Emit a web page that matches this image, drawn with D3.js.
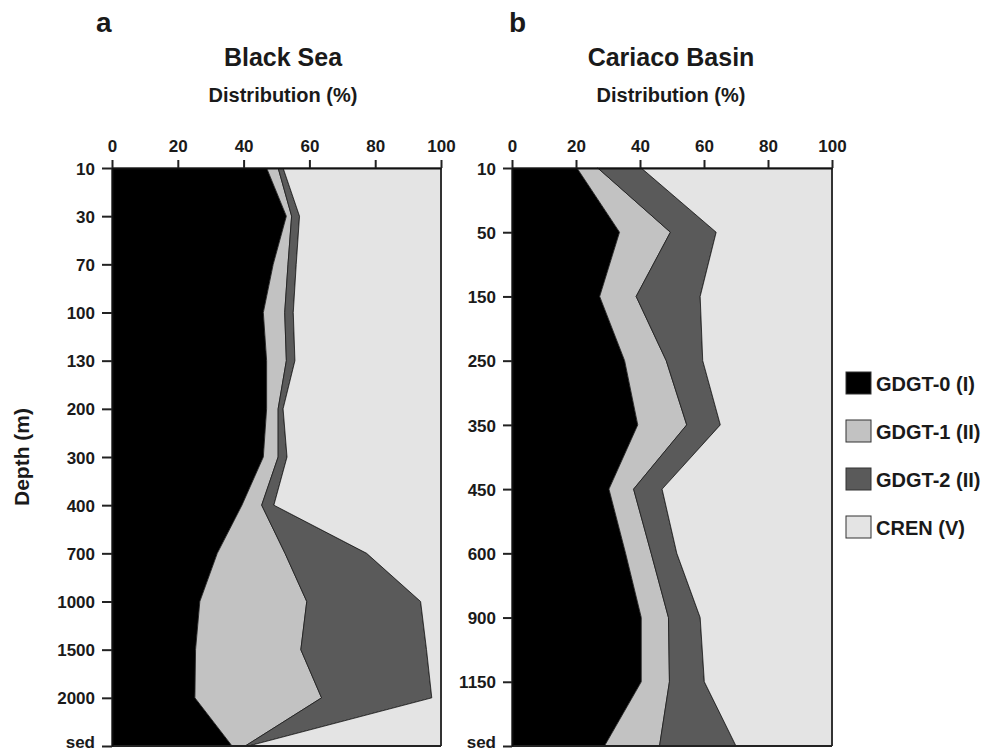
<!DOCTYPE html>
<html>
<head>
<meta charset="utf-8">
<script src="https://cdn.jsdelivr.net/npm/d3@7"></script>
<style>
  body { margin: 0; background: #fff; }
  text { font-family: "Liberation Sans", Arial, sans-serif; font-weight: bold; fill: #1a1a1a; }
</style>
</head>
<body>
<script>
// keys of the four lipid groups, bottom of the stack first
var keys = ["gdgt0", "gdgt1", "gdgt2", "cren"];
var legendLabels = ["GDGT-0 (I)", "GDGT-1 (II)", "GDGT-2 (II)", "CREN (V)"];
var colors = ["#000000", "#c2c2c2", "#5a5a5a", "#e4e4e4"];
var xTicks = [0, 20, 40, 60, 80, 100];

// Black Sea (%)
var bsDepth = ["10", "30", "70", "100", "130", "200", "300", "400", "700", "1000", "1500", "2000", "sed"];
var bsGdgt0 = [47, 53, 49, 46, 47, 47, 46, 39.5, 32, 26.7, 25.4, 25.2, 36.5];
var bsGdgt1 = [3.5, 1.6, 4.5, 6.5, 6, 3.5, 4.5, 6, 20.6, 32.5, 32, 38.5, 4];
var bsGdgt2 = [1.5, 2.4, 2.5, 2.6, 2.6, 1.5, 2.7, 3.7, 24.8, 34.6, 38.2, 33.5, 1];
var bsCren  = [48, 43, 44, 44.9, 44.4, 48, 46.8, 50.8, 22.6, 6.2, 4.4, 2.8, 58.5];

// Cariaco Basin (%)
var cbDepth = ["10", "50", "150", "250", "350", "450", "600", "900", "1150", "sed"];
var cbGdgt0 = [20.3, 33.6, 27.4, 35.2, 39.3, 30.3, 35.5, 40.4, 40.4, 28.9];
var cbGdgt1 = [6.5, 15.9, 11.4, 13, 15.3, 7.7, 8, 8.5, 8.8, 17.2];
var cbGdgt2 = [13.6, 14.3, 20, 11.4, 10.5, 8.9, 8, 9.9, 10.9, 23.9];
var cbCren  = [59.6, 36.2, 41.2, 40.4, 34.9, 53.1, 48.5, 41.2, 39.9, 30];

var svg = d3.select("body").append("svg")
    .attr("width", 991)
    .attr("height", 755);

function rows(depth, a, b, c, d) {
  return depth.map(function(dep, i) {
    return { depth: dep, gdgt0: a[i], gdgt1: b[i], gdgt2: c[i], cren: d[i] };
  });
}

function drawPanel(p) {
  var x = d3.scaleLinear().domain([0, 100]).range([p.left, p.right]);
  var y = d3.scalePoint().domain(p.data.map(function(d) { return d.depth; }))
      .range([p.top, p.bottom]);

  var series = d3.stack().keys(keys)(p.data);

  var area = d3.area()
      .y(function(d) { return y(d.data.depth); })
      .x0(function(d) { return x(d[0]); })
      .x1(function(d) { return x(d[1]); });

  svg.append("g").selectAll("path")
      .data(series)
    .enter().append("path")
      .attr("d", area)
      .attr("fill", function(d, i) { return colors[i]; })
      .attr("stroke", "#1a1a1a")
      .attr("stroke-width", 0.8)
      .attr("stroke-linejoin", "round");

  // frame: right and bottom
  svg.append("line")
      .attr("x1", x(100)).attr("x2", x(100))
      .attr("y1", p.top).attr("y2", p.bottom)
      .attr("stroke", "#333").attr("stroke-width", 2);
  svg.append("line")
      .attr("x1", x(0)).attr("x2", x(100))
      .attr("y1", p.bottom).attr("y2", p.bottom)
      .attr("stroke", "#222").attr("stroke-width", 2);

  var gx = svg.append("g")
      .attr("transform", "translate(0," + p.top + ")")
      .call(d3.axisTop(x).tickValues(xTicks).tickSize(8).tickSizeOuter(0).tickPadding(8));
  var gy = svg.append("g")
      .attr("transform", "translate(" + p.left + ",0)")
      .call(d3.axisLeft(y).tickSize(p.tick).tickSizeOuter(0).tickPadding(7));

  [gx, gy].forEach(function(g) {
    g.select(".domain").attr("stroke", "#111").attr("stroke-width", 2);
    g.selectAll(".tick line").attr("stroke", "#222").attr("stroke-width", 2);
    g.selectAll(".tick text").attr("font-size", 17).attr("fill", "#1a1a1a");
  });
  gy.selectAll(".tick text").attr("dy", "0.36em");
  // last label sits on the lower edge of the picture; lift it so it stays whole
  gy.selectAll(".tick text").filter(function(d) { return d === "sed"; })
      .attr("dy", "0.1em");

  svg.append("text")
      .attr("x", p.letterX).attr("y", 32)
      .attr("font-size", 28)
      .text(p.letter);
  svg.append("text")
      .attr("x", p.titleX).attr("y", 66)
      .attr("text-anchor", "middle")
      .attr("font-size", 25)
      .text(p.title);
  svg.append("text")
      .attr("x", p.titleX).attr("y", 102)
      .attr("text-anchor", "middle")
      .attr("font-size", 20)
      .text("Distribution (%)");
}

drawPanel({
  data: rows(bsDepth, bsGdgt0, bsGdgt1, bsGdgt2, bsCren),
  left: 112, right: 441, top: 168, bottom: 746, tick: 10,
  letter: "a", letterX: 96, title: "Black Sea", titleX: 283
});

drawPanel({
  data: rows(cbDepth, cbGdgt0, cbGdgt1, cbGdgt2, cbCren),
  left: 512, right: 832, top: 168, bottom: 746, tick: 9,
  letter: "b", letterX: 509, title: "Cariaco Basin", titleX: 671
});

// y axis title
svg.append("text")
    .attr("transform", "translate(29,457) rotate(-90)")
    .attr("text-anchor", "middle")
    .attr("font-size", 21)
    .text("Depth (m)");

// legend
var legend = svg.append("g").selectAll("g")
    .data(legendLabels)
  .enter().append("g")
    .attr("transform", function(d, i) { return "translate(846," + (372 + i * 48) + ")"; });

legend.append("rect")
    .attr("width", 25).attr("height", 22)
    .attr("fill", function(d, i) { return colors[i]; })
    .attr("stroke", "#333").attr("stroke-width", 1);

legend.append("text")
    .attr("x", 30).attr("y", 19)
    .attr("font-size", 20)
    .text(function(d) { return d; });
</script>
</body>
</html>
